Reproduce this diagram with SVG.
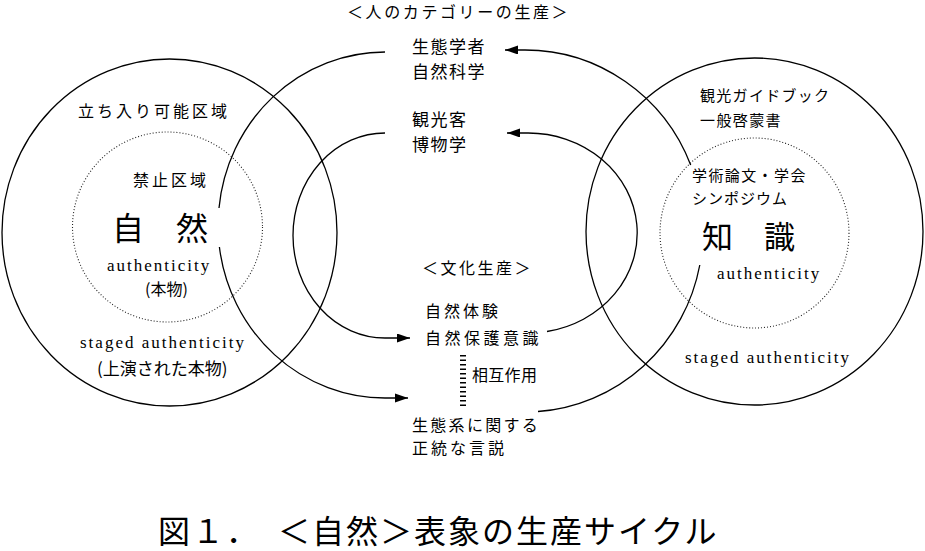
<svg xmlns="http://www.w3.org/2000/svg" width="925" height="551" viewBox="0 0 925 551">
<style>
.jp{font-family:"Noto Sans CJK JP","Noto Sans",sans-serif;fill:#000}
.en{font-family:"Liberation Serif","DejaVu Serif",serif;fill:#000;font-size:17px;letter-spacing:2px}
.ring{fill:none;stroke:#000;stroke-width:1.3}
.dot{fill:none;stroke:#222;stroke-width:1.1;stroke-dasharray:1 2}
.con{fill:none;stroke:#000;stroke-width:1.3}
</style>
<defs>
<marker id="ah" markerUnits="userSpaceOnUse" markerWidth="14" markerHeight="10" refX="13" refY="4.5" orient="auto">
<path d="M0,0 L13,4.5 L0,9 z" fill="#000"/>
</marker>
</defs>
<rect width="925" height="551" fill="#fff"/>

<g id="nature">
<ellipse class="ring" cx="169.5" cy="232.5" rx="167.5" ry="173.5"/>
<ellipse class="dot" cx="167.5" cy="227" rx="95" ry="95"/>
<text class="jp" x="78" y="117" font-size="16" letter-spacing="3">立ち入り可能区域</text>
<text class="jp" x="133" y="186" font-size="16" letter-spacing="3">禁止区域</text>
<text class="jp" x="112" y="240" font-size="32">自　然</text>
<text class="en" x="107" y="271">authenticity</text>
<text class="jp" x="145" y="295" font-size="16">(本物)</text>
<text class="en" x="80" y="348">staged authenticity</text>
<text class="jp" x="97" y="375" font-size="17">(上演された本物)</text>
</g>

<g id="knowledge">
<ellipse class="ring" cx="754.5" cy="231.5" rx="168.5" ry="173.5"/>
<ellipse class="dot" cx="754.5" cy="233" rx="94.5" ry="95"/>
<text class="jp" x="700" y="101" font-size="15" letter-spacing="1.3">観光ガイドブック</text>
<text class="jp" x="700" y="126" font-size="15" letter-spacing="1.4">一般啓蒙書</text>
<text class="jp" x="692" y="181" font-size="15" letter-spacing="1.4">学術論文・学会</text>
<text class="jp" x="692" y="204" font-size="15" letter-spacing="1">シンポジウム</text>
<text class="jp" x="702" y="248" font-size="31">知　識</text>
<text class="en" x="717" y="279">authenticity</text>
<text class="en" x="685" y="363">staged authenticity</text>
</g>

<g id="category">
<text class="jp" x="347" y="18" font-size="16" letter-spacing="2.6">＜人のカテゴリーの生産＞</text>
<text class="jp" x="412" y="53" font-size="17" letter-spacing="1.5">生態学者</text>
<text class="jp" x="412" y="78" font-size="17" letter-spacing="1.5">自然科学</text>
<text class="jp" x="412" y="126" font-size="17" letter-spacing="1.5">観光客</text>
<text class="jp" x="412" y="151" font-size="17" letter-spacing="1.5">博物学</text>
</g>

<g id="culture">
<text class="jp" x="422" y="274" font-size="16" letter-spacing="2.5">＜文化生産＞</text>
<text class="jp" x="425" y="317" font-size="16" letter-spacing="3">自然体験</text>
<text class="jp" x="425" y="344" font-size="16" letter-spacing="3.5">自然保護意識</text>
<text class="jp" x="472" y="381" font-size="16" letter-spacing="0.3">相互作用</text>
<text class="jp" x="412" y="431" font-size="16" letter-spacing="2.3">生態系に関する</text>
<text class="jp" x="412" y="454" font-size="16" letter-spacing="3">正統な言説</text>
</g>

<g id="connectors">
<path class="con" d="M385 52 A167 173 0 0 0 219 208"/>
<path class="con" d="M219.4 247 A167 173 0 0 0 385 398 L408 398" marker-end="url(#ah)"/>
<path class="con" d="M690.7 165 A178 181 0 0 0 525 50 L505 50" marker-end="url(#ah)"/>
<path class="con" d="M699.8 265 A178 181 0 0 1 538 411.5"/>
<path class="con" d="M385 133 A92 102.5 0 0 0 293 235.5 A92 102.5 0 0 0 385 338 L410 338" marker-end="url(#ah)"/>
<path class="con" d="M547 331.5 A109 100 0 0 0 528 133 L507 133" marker-end="url(#ah)"/>
<line x1="463" y1="355" x2="463" y2="408" stroke="#000" stroke-width="6" stroke-dasharray="1.5 3"/>
</g>

<g id="caption">
<text class="jp" x="158" y="543" font-size="32" letter-spacing="2">図１．　＜自然＞表象の生産サイクル</text>
</g>
</svg>
